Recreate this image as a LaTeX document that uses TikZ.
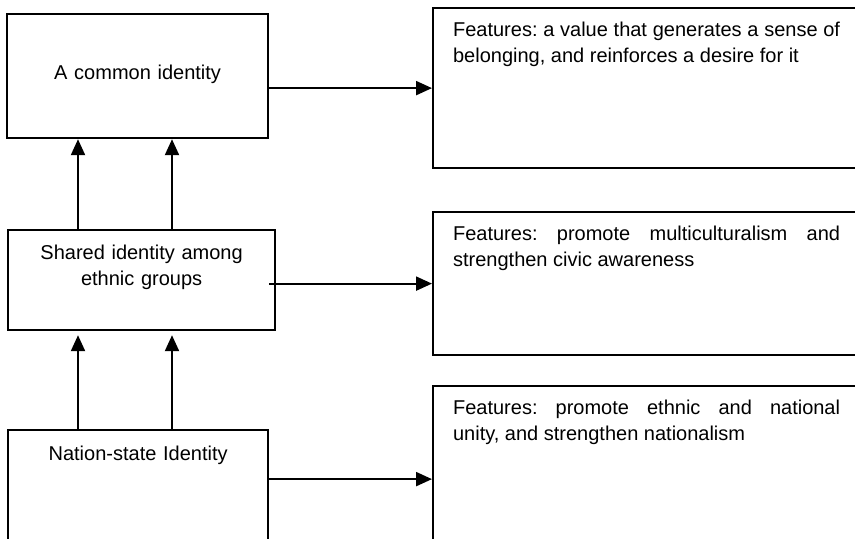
\documentclass[tikz,border=0pt]{standalone}
\usepackage{fontspec}
\setmainfont{Liberation Sans}
\usepackage{tikz}
\usetikzlibrary{positioning,arrows.meta}
\frenchspacing
\tikzset{
    base/.style={font=\fontsize{10}{13}\selectfont, inner xsep=0pt, inner ysep=0pt},
    idbox/.style={base, rectangle, draw, line width=1.1pt, align=center, anchor=north west},
    featbox/.style={base, rectangle, draw, line width=1.1pt, inner xsep=10pt, text width=193.5pt,
                    align=justify, text height=14pt, anchor=north west},
    flow/.style={-{Triangle[length=8pt,width=7pt]}, line width=1.1pt}
}

\begin{document}
\begin{tikzpicture}[
    x=0.5pt, y=-0.5pt,
    lower flow/.style={flow, shorten >=2pt}
]
  \useasboundingbox (0,0) rectangle (855,538);
  \clip (0,0) rectangle (855,538);

  \node[idbox, text width=130.5pt, text height=32.5pt, text depth=29.5pt] (common) at (6,13) {A common identity};
  \node[idbox, text width=133.5pt, text height=14.5pt, text depth=35.5pt] (shared) at (7,229) {Shared identity among\\ethnic groups};
  \node[idbox, text width=130pt, text height=15pt, text depth=50.5pt] (state) at (7,429) {Nation-state Identity};

  \node[featbox, text depth=66pt] (fcommon) at (432,7) {Features: a value that generates a sense of\linebreak belonging, and reinforces a desire for it};
  \node[featbox, text depth=57.5pt] (fshared) at (432,211) {Features: promote multiculturalism and\linebreak strengthen civic awareness};
  \node[featbox, text depth=79pt] (fstate) at (432,385) {Features: promote ethnic and national\linebreak unity, and strengthen nationalism};

  \coordinate (lane1) at (78,0);
  \coordinate (lane2) at (172,0);

  \draw[flow] (fcommon.west -| common.east) -- (fcommon.west);
  \draw[flow] (fshared.west -| state.east) -- (fshared.west);
  \draw[flow] (fstate.west -| state.east) -- (fstate.west);

  \draw[flow] (shared.north -| lane1) -- (common.south -| lane1);
  \draw[flow] (shared.north -| lane2) -- (common.south -| lane2);
  \draw[lower flow] (state.north -| lane1) -- (shared.south -| lane1);
  \draw[lower flow] (state.north -| lane2) -- (shared.south -| lane2);
\end{tikzpicture}
\end{document}
